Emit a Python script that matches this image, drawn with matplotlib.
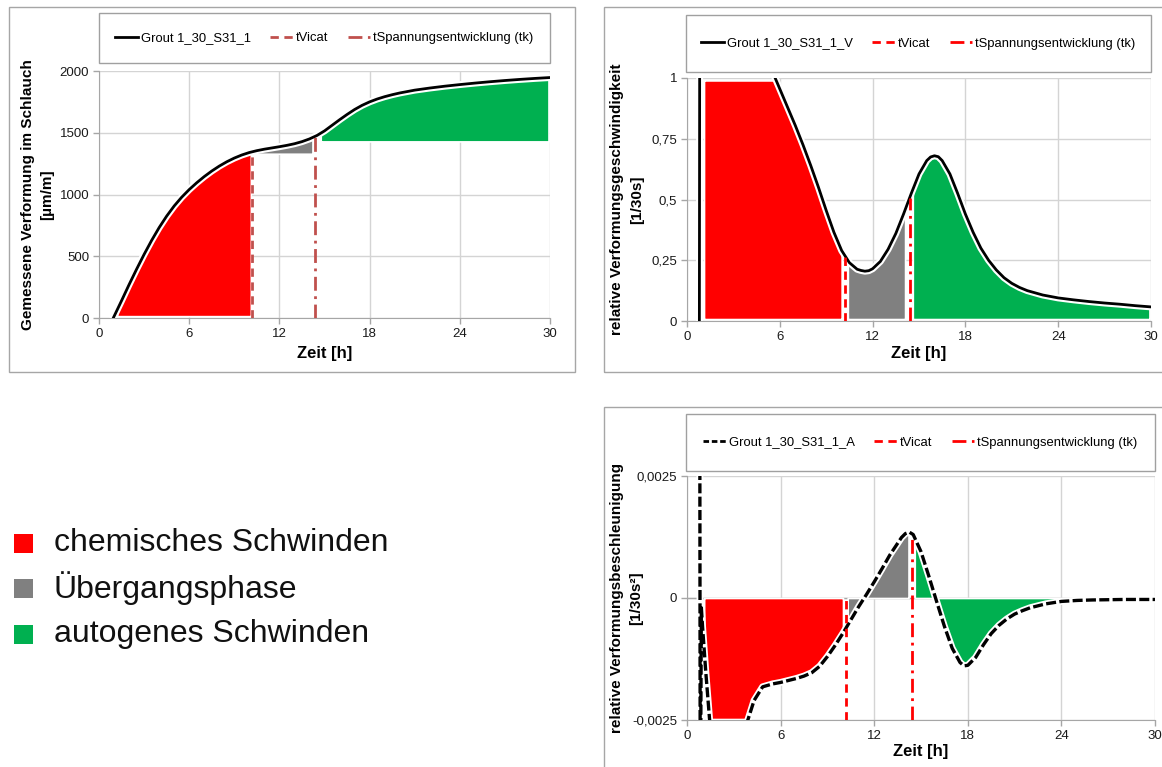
import numpy as np
import matplotlib
matplotlib.use("Agg")
import matplotlib.pyplot as plt
from matplotlib.patches import Rectangle
from matplotlib.lines import Line2D

plt.rcParams['font.family'] = ['Liberation Sans', 'DejaVu Sans']

W, H = 1162, 767

# Zeitpunkte [h]
t_vicat = 10.2
t_k = 14.4

# gemessene Verformung im Schlauch [µm/m]
t_eps = [0.95, 1.5, 2, 2.5, 3, 3.5, 4, 4.5, 5, 5.5, 6, 6.5, 7, 7.5, 8, 8.5, 9, 9.5, 10, 10.5,
         11, 11.5, 12, 12.5, 13, 13.5, 14, 14.5, 15, 15.5, 16, 16.5, 17, 17.5, 18, 18.5, 19,
         19.5, 20, 21, 22, 23, 24, 25, 26, 27, 28, 29, 30]
eps = [0, 140, 270, 395, 515, 628, 732, 825, 907, 978, 1040, 1095, 1145, 1190, 1230, 1265,
       1295, 1320, 1340, 1355, 1367, 1377, 1387, 1398, 1411, 1428, 1450, 1478, 1515, 1560,
       1605, 1648, 1688, 1722, 1750, 1773, 1792, 1808, 1822, 1845, 1862, 1877, 1890, 1902,
       1913, 1923, 1932, 1940, 1947]

# relative Verformungsgeschwindigkeit [1/30s]
t_vel = [0.8, 0.85, 1, 2, 3, 4, 5, 5.5, 6, 6.5, 7, 7.5, 8, 8.5, 9, 9.5, 10, 10.5, 11, 11.25,
         11.5, 11.75, 12, 12.5, 13, 13.5, 14, 14.5, 15, 15.5, 15.75, 16, 16.25, 16.5, 17,
         17.5, 18, 18.5, 19, 19.5, 20, 20.5, 21, 21.5, 22, 23, 24, 25, 26, 27, 28, 29, 30]
vel = [0, 2.8, 2.6, 2.1, 1.7, 1.4, 1.13, 1.03, 0.955, 0.88, 0.805, 0.725, 0.64, 0.55, 0.455,
       0.365, 0.29, 0.24, 0.213, 0.208, 0.205, 0.207, 0.215, 0.245, 0.295, 0.36, 0.44, 0.525,
       0.605, 0.66, 0.675, 0.68, 0.676, 0.66, 0.605, 0.525, 0.44, 0.365, 0.30, 0.25, 0.21,
       0.178, 0.155, 0.138, 0.125, 0.107, 0.095, 0.087, 0.08, 0.074, 0.069, 0.063, 0.058]

# relative Verformungsbeschleunigung [1/30s²]
t_acc = [0.8, 0.85, 0.92, 1.0, 1.2, 1.45, 2, 3, 3.9, 4.3, 4.85, 5.5, 6, 6.5, 7, 7.5, 8, 8.5,
         9, 9.5, 10, 10.5, 11, 11.5, 12, 12.5, 13, 13.5, 13.75, 14, 14.25, 14.5, 15, 15.5, 16,
         16.5, 17, 17.5, 17.75, 18, 18.5, 19, 19.5, 20, 20.5, 21, 21.5, 22, 23, 24, 25, 26,
         28, 30]
acc = [10.0, -5.0, -0.2, -0.6, -1.5, -2.5, -3.2, -3.3, -2.5, -2.1, -1.82, -1.76, -1.73, -1.69,
       -1.65, -1.60, -1.53, -1.40, -1.20, -0.97, -0.72, -0.45, -0.18, 0.07, 0.33, 0.60, 0.88,
       1.12, 1.24, 1.32, 1.35, 1.30, 0.95, 0.45, -0.07, -0.58, -1.03, -1.32, -1.39, -1.38,
       -1.22, -0.96, -0.73, -0.56, -0.43, -0.33, -0.26, -0.20, -0.12, -0.07, -0.05, -0.04,
       -0.03, -0.03]
acc = [a * 1e-3 for a in acc]

# Phasen: (Beginn, Ende, Basis) je Diagramm
phases_eps = [(1.2, 10.1, 15), (10.4, 14.2, 1330), (14.75, 29.9, 1430)]
phases_vel = [(1.1, 10.0, 0.008), (10.4, 14.1, 0.008), (14.6, 29.9, 0.008)]
phases_acc = [(1.1, 10.0, 0), (10.3, 14.2, 0), (14.6, 30, 0)]
phase_colors = ['#FF0000', '#808080', '#00B050']
phase_names = ['chemisches Schwinden', 'Übergangsphase', 'autogenes Schwinden']

xticks = [0, 6, 12, 18, 24, 30]
yticks_eps = [0, 500, 1000, 1500, 2000]
yticks_vel = [0, 0.25, 0.5, 0.75, 1]
ylabels_vel = ['0', '0,25', '0,5', '0,75', '1']
yticks_acc = [-0.0025, 0, 0.0025]
ylabels_acc = ['-0,0025', '0', '0,0025']

GRID = '#D4D4D4'
AXIS = '#A6A6A6'
BOX = '#A0A0A0'


def frac(x, y):
    return x / W, 1 - y / H


def add_box(fig, x0, y0, x1, y1, color):
    fx, fy = frac(x0, y1)
    fig.add_artist(Rectangle((fx, fy), (x1 - x0) / W, (y1 - y0) / H, transform=fig.transFigure,
                             fill=False, edgecolor=color, lw=1))


def make_axes(fig, x0, y0, x1, y1):
    fx, fy = frac(x0, y1)
    ax = fig.add_axes([fx, fy, (x1 - x0) / W, (y1 - y0) / H])
    ax.set_xlim(0, 30)
    ax.set_xticks(xticks)
    ax.grid(color=GRID, lw=1)
    ax.set_axisbelow(True)
    for s in ['top', 'right']:
        ax.spines[s].set_visible(False)
    for s in ['left', 'bottom']:
        ax.spines[s].set_color(AXIS)
    ax.tick_params(labelsize=9.5, colors='#1a1a1a', length=4, width=1, pad=3)
    ax.tick_params(color=AXIS)
    ax.set_xlabel('Zeit [h]', fontsize=12, fontweight='bold')
    return ax


def ylabel2(ax, line1, line2, x1, x2):
    # zweizeiliger Achsentitel, jede Zeile einzeln gesetzt
    for txt, x in ((line1, x1), (line2, x2)):
        ax.text(x, 0.5, txt, transform=ax.transAxes, rotation=90, ha='center', va='center',
                rotation_mode='anchor', fontsize=11, fontweight='bold')


def shade(ax, t, y, phases, lo=None, hi=None):
    for (a, b, base), c in zip(phases, phase_colors):
        tt = np.linspace(a, b, 300)
        yy = np.interp(tt, t, y)
        if lo is not None:
            yy = np.clip(yy, lo, hi)
        ax.fill_between(tt, base, yy, color=c, edgecolor='white', lw=1.2, zorder=2)


def curve(ax, t, y, dashed=False):
    ax.plot(t, y, color='white', lw=5, zorder=3)
    if dashed:
        ax.plot(t, y, color='black', lw=2.4, ls=(0, (3, 1)), zorder=4)
    else:
        ax.plot(t, y, color='black', lw=2, zorder=4)


def markers(ax, color, vic_span, k_span):
    ax.plot([t_vicat, t_vicat], vic_span, color=color, lw=2, ls=(0, (3, 2)), zorder=5)
    ax.plot([t_k, t_k], k_span, color=color, lw=2, ls=(0, (5, 2, 1, 2)), zorder=5)


def legend_box(ax, fig, x0, y0, x1, y1, name, color, dashed=False):
    add_box(fig, x0, y0, x1, y1, BOX)
    handles = [
        Line2D([], [], color='black', lw=2, ls=(0, (2, 1)) if dashed else '-'),
        Line2D([], [], color=color, lw=2, ls=(0, (3, 2))),
        Line2D([], [], color=color, lw=2, ls=(0, (5, 2, 1, 2))),
    ]
    labels = [name, 'tVicat', 'tSpannungsentwicklung (tk)']
    cx, cy = frac((x0 + x1) / 2, (y0 + y1) / 2)
    ax.legend(handles, labels, loc='center', bbox_to_anchor=(cx, cy), bbox_transform=fig.transFigure,
              ncol=3, frameon=False, fontsize=9.4, handlelength=1.7, handletextpad=0.25,
              columnspacing=1.5)


fig = plt.figure(figsize=(W / 100, H / 100), dpi=100)

# Rahmen der drei Diagramme
add_box(fig, 9, 7, 575, 372, AXIS)
add_box(fig, 604, 7, 1175, 372, AXIS)
add_box(fig, 604, 407, 1175, 780, AXIS)

# Verformung
ax1 = make_axes(fig, 99, 71, 550, 318)
ax1.set_ylim(0, 2000)
ax1.set_yticks(yticks_eps)
shade(ax1, t_eps, eps, phases_eps)
curve(ax1, t_eps, eps)
vic1 = '#C0504D'
markers(ax1, vic1, [0, np.interp(t_vicat, t_eps, eps)], [0, np.interp(t_k, t_eps, eps)])
ylabel2(ax1, 'Gemessene Verformung im Schlauch', '[µm/m]', -0.157, -0.115)
ax1.xaxis.set_label_coords(0.5, -0.115)
legend_box(ax1, fig, 99, 13, 550, 63, 'Grout 1_30_S31_1', vic1)

# Geschwindigkeit
ax2 = make_axes(fig, 687, 78, 1151, 321)
ax2.set_ylim(0, 1)
ax2.set_yticks(yticks_vel)
ax2.set_yticklabels(ylabels_vel)
shade(ax2, t_vel, vel, phases_vel, lo=0, hi=0.99)
curve(ax2, t_vel, vel)
markers(ax2, '#FF0000', [0, np.interp(t_vicat, t_vel, vel)], [0, np.interp(t_k, t_vel, vel)])
ylabel2(ax2, 'relative Verformungsgeschwindigkeit', '[1/30s]', -0.151, -0.108)
ax2.xaxis.set_label_coords(0.5, -0.103)
legend_box(ax2, fig, 686, 15, 1151, 72, 'Grout 1_30_S31_1_V', '#FF0000')

# Beschleunigung
ax3 = make_axes(fig, 687, 476, 1155, 720)
ax3.set_ylim(-0.0025, 0.0025)
ax3.set_yticks(yticks_acc)
ax3.set_yticklabels(ylabels_acc)
ax3.axhline(0, color=AXIS, lw=1, zorder=1.5)
shade(ax3, t_acc, acc, phases_acc, lo=-0.00248, hi=0.0025)
curve(ax3, t_acc, acc, dashed=True)
markers(ax3, '#FF0000', [-0.0025, 0], [-0.0025, np.interp(t_k, t_acc, acc)])
ylabel2(ax3, 'relative Verformungsbeschleunigung', '[1/30s²]', -0.150, -0.109)
ax3.xaxis.set_label_coords(0.5, -0.1)
legend_box(ax3, fig, 686, 414, 1155, 471, 'Grout 1_30_S31_1_A', '#FF0000', dashed=True)

# Legende der Phasen
for i, (name, c) in enumerate(zip(phase_names, phase_colors)):
    yc = 543 + i * 45.5
    fx, fy = frac(14, yc + 9.5)
    fig.add_artist(Rectangle((fx, fy), 19 / W, 19 / H, transform=fig.transFigure,
                             facecolor=c, edgecolor='none'))
    tx, ty = frac(54, yc)
    fig.text(tx, ty, name, fontsize=23, va='center', ha='left', color='#111111')

fig.savefig('out.png', dpi=100)
